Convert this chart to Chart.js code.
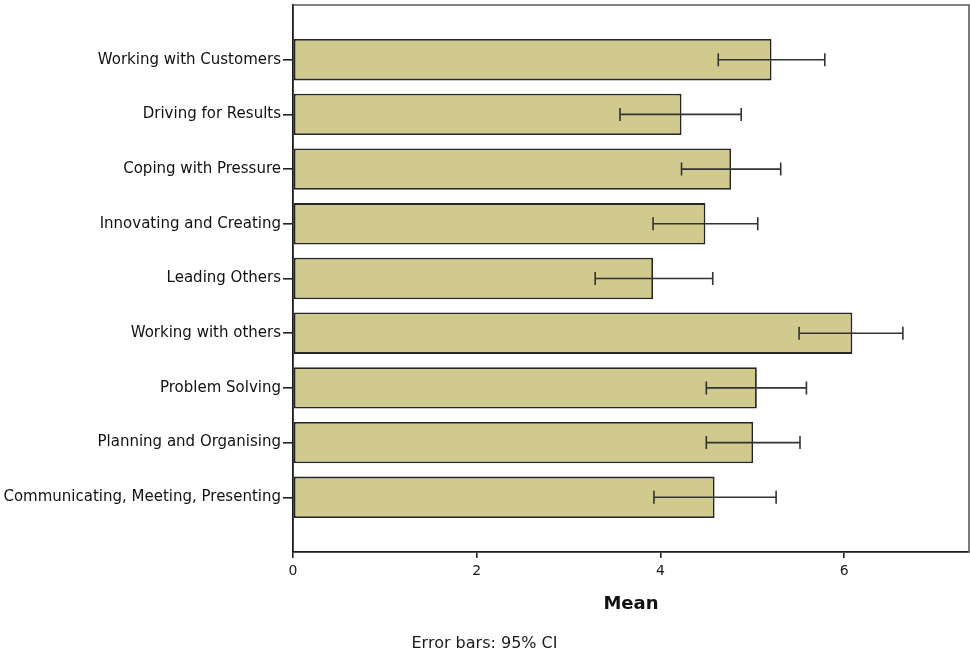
<!DOCTYPE html>
<html>
<head>
<meta charset="utf-8">
<script src="https://cdn.jsdelivr.net/npm/chart.js@4.4.1/dist/chart.umd.min.js"></script>
<style>
  html, body { margin: 0; padding: 0; background: #ffffff; }
  #wrap { width: 970px; height: 656px; position: relative; }
</style>
</head>
<body>
<div id="wrap"><canvas id="c" width="970" height="656"></canvas></div>
<script>
const categories = [
  "Working with Customers",
  "Driving for Results",
  "Coping with Pressure",
  "Innovating and Creating",
  "Leading Others",
  "Working with others",
  "Problem Solving",
  "Planning and Organising",
  "Communicating, Meeting, Presenting"
];
const means   = [5.21, 4.23, 4.77, 4.49, 3.92, 6.09, 5.05, 5.01, 4.59];
const ciLower = [4.63, 3.56, 4.23, 3.92, 3.29, 5.51, 4.50, 4.50, 3.93];
const ciUpper = [5.79, 4.88, 5.31, 5.06, 4.57, 6.64, 5.59, 5.52, 5.26];
const xTicks  = [0, 2, 4, 6];
const xMax = 7.36;

const FONT = "'DejaVu Sans', 'Liberation Sans', Arial, sans-serif";

const errorBars = {
  id: 'errorBars',
  afterDatasetsDraw(chart) {
    const ctx = chart.ctx;
    const xs = chart.scales.x, ys = chart.scales.y;
    ctx.save();
    ctx.strokeStyle = '#333333';
    ctx.lineWidth = 1.6;
    for (let i = 0; i < categories.length; i++) {
      const y = ys.getPixelForValue(i);
      const x1 = xs.getPixelForValue(ciLower[i]);
      const x2 = xs.getPixelForValue(ciUpper[i]);
      ctx.beginPath();
      ctx.moveTo(x1, y); ctx.lineTo(x2, y);
      ctx.moveTo(x1, y - 6.5); ctx.lineTo(x1, y + 6.5);
      ctx.moveTo(x2, y - 6.5); ctx.lineTo(x2, y + 6.5);
      ctx.stroke();
    }
    ctx.restore();
  },
  afterDraw(chart) {
    const ctx = chart.ctx, a = chart.chartArea;
    ctx.save();
    ctx.strokeStyle = '#5a5a5a';
    ctx.lineWidth = 1.6;
    ctx.beginPath();
    ctx.moveTo(a.left, a.top); ctx.lineTo(a.right, a.top); ctx.lineTo(a.right, a.bottom);
    ctx.stroke();
    ctx.restore();
  }
};

new Chart(document.getElementById('c'), {
  type: 'bar',
  data: {
    datasets: [{
      data: means.map((v, i) => ({ x: v, y: i })),
      backgroundColor: '#d1ca8e',
      borderColor: '#262626',
      borderWidth: 1.8,
      borderSkipped: false,
      barPercentage: 0.757,
      categoryPercentage: 1.0
    }]
  },
  options: {
    indexAxis: 'y',
    responsive: false,
    animation: false,
    layout: { padding: { top: 5, right: 1, left: 0, bottom: 0 } },
    plugins: {
      legend: { display: false },
      tooltip: { enabled: false },
      title: {
        display: true,
        position: 'bottom',
        text: 'Error bars: 95% CI',
        color: '#1a1a1a',
        font: { family: FONT, size: 16, weight: 'normal' },
        padding: { top: 8, bottom: 3 }
      }
    },
    scales: {
      y: {
        type: 'linear',
        reverse: true,
        offset: false,
        min: -1,
        max: 9,
        afterBuildTicks(scale) { scale.ticks = categories.map((_, i) => ({ value: i })); },
        afterFit(scale) { scale.width = 293; scale.paddingTop = 0; scale.paddingBottom = 0; },
        ticks: {
          callback: (v) => categories[v] ?? '',
          color: '#111',
          font: { family: FONT, size: 15 },
          padding: 2
        },
        grid: { display: true, offset: false, drawOnChartArea: false, drawTicks: true, tickLength: 10, color: '#222', lineWidth: 1.6 },
        border: { display: true, color: '#1a1a1a', width: 1.8 }
      },
      x: {
        type: 'linear',
        min: 0,
        max: xMax,
        afterBuildTicks(scale) { scale.ticks = xTicks.map(v => ({ value: v })); },
        afterFit(scale) { scale.height = 73.8; scale.paddingLeft = 0; scale.paddingRight = 0; },
        ticks: {
          color: '#1a1a1a',
          font: { family: FONT, size: 14 },
          padding: 5
        },
        grid: { display: true, drawOnChartArea: false, drawTicks: true, tickLength: 6, color: '#222', lineWidth: 1.6 },
        border: { display: true, color: '#1a1a1a', width: 1.8 },
        title: {
          display: true,
          text: 'Mean',
          color: '#111',
          font: { family: FONT, size: 18, weight: 'bold' },
          padding: { top: 0, bottom: 11 }
        }
      }
    }
  },
  plugins: [errorBars]
});
</script>
</body>
</html>
